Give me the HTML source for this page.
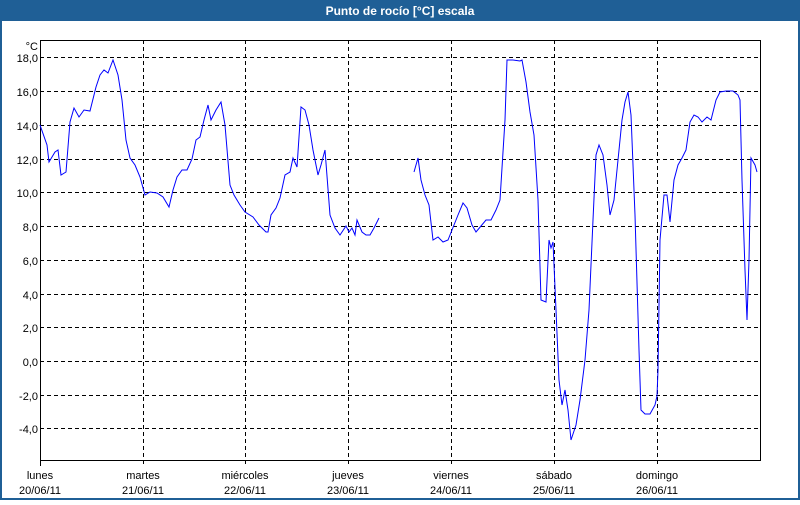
<!DOCTYPE html>
<html><head><meta charset="utf-8"><style>
body{margin:0;width:800px;height:500px;overflow:hidden;background:#fff;font-family:"Liberation Sans",sans-serif}
</style></head><body>
<svg width="800" height="500" xmlns="http://www.w3.org/2000/svg" font-family="Liberation Sans, sans-serif">
<rect x="0" y="0" width="800" height="500" fill="#1f5f96"/>
<rect x="2" y="21" width="796" height="477" fill="#fff"/>
<text x="400" y="15" fill="#fff" font-size="12" font-weight="bold" text-anchor="middle">Punto de rocío [°C] escala</text>
<g stroke="#000" stroke-dasharray="4,3" stroke-width="1">
<line x1="40" x2="760" y1="57.5" y2="57.5"/><line x1="40" x2="760" y1="91.5" y2="91.5"/><line x1="40" x2="760" y1="125.5" y2="125.5"/><line x1="40" x2="760" y1="159.5" y2="159.5"/><line x1="40" x2="760" y1="192.5" y2="192.5"/><line x1="40" x2="760" y1="226.5" y2="226.5"/><line x1="40" x2="760" y1="260.5" y2="260.5"/><line x1="40" x2="760" y1="294.5" y2="294.5"/><line x1="40" x2="760" y1="327.5" y2="327.5"/><line x1="40" x2="760" y1="361.5" y2="361.5"/><line x1="40" x2="760" y1="395.5" y2="395.5"/><line x1="40" x2="760" y1="428.5" y2="428.5"/>
<line x1="143.5" x2="143.5" y1="40" y2="466"/><line x1="245.5" x2="245.5" y1="40" y2="466"/><line x1="348.5" x2="348.5" y1="40" y2="466"/><line x1="451.5" x2="451.5" y1="40" y2="466"/><line x1="554.5" x2="554.5" y1="40" y2="466"/><line x1="657.5" x2="657.5" y1="40" y2="466"/>
</g>
<rect x="40.5" y="40.5" width="720" height="420" fill="none" stroke="#000"/>
<line x1="40.5" x2="40.5" y1="460" y2="466" stroke="#000"/>
<g font-size="11" fill="#000" text-anchor="end">
<text x="38" y="50" >°C</text>
<text x="38" y="62">18,0</text><text x="38" y="96">16,0</text><text x="38" y="130">14,0</text><text x="38" y="164">12,0</text><text x="38" y="197">10,0</text><text x="38" y="231">8,0</text><text x="38" y="265">6,0</text><text x="38" y="299">4,0</text><text x="38" y="332">2,0</text><text x="38" y="366">0,0</text><text x="38" y="400">-2,0</text><text x="38" y="433">-4,0</text>
</g>
<g font-size="11" fill="#000" text-anchor="middle">
<text x="40" y="479">lunes</text><text x="40" y="494">20/06/11</text>
<text x="143" y="479">martes</text><text x="143" y="494">21/06/11</text>
<text x="245" y="479">miércoles</text><text x="245" y="494">22/06/11</text>
<text x="348" y="479">jueves</text><text x="348" y="494">23/06/11</text>
<text x="451" y="479">viernes</text><text x="451" y="494">24/06/11</text>
<text x="554" y="479">sábado</text><text x="554" y="494">25/06/11</text>
<text x="657" y="479">domingo</text><text x="657" y="494">26/06/11</text>
</g>
<g fill="none" stroke="#0000ff" stroke-width="1">
<polyline points="40,125 47,145 49,162 55,152 58,150 61,175 66,172 70,122 74,108 79,117 84,110 90,111 96,87 100,75 104,70 108,73 113,60 118,75 122,100 126,140 130,158 135,165 140,177 145,195 150,192 157,193 163,197 169,207 173,190 177,177 182,170 187,170 192,159 196,140 200,137 204,120 208,105 211,120 216,110 221,102 225,125 230,185 234,195 240,205 245,212 253,217 259,225 266,232 268,232 271,215 276,208 280,198 285,175 290,172 293,158 297,167 301,107 305,110 309,125 313,150 318,175 321,165 325,150 330,215 335,228 340,235 346,226 349,232 352,228 355,235 357,220 362,232 366,235 370,235 374,228 379,218"/>
<polyline points="414,172 418,158 421,180 425,195 429,205 433,240 438,237 443,242 448,240 452,230 458,215 463,203 467,208 472,225 476,232 481,226 486,220 491,220 496,210 500,200 505,120 507,60 513,60 520,61 522,60 526,82 530,112 534,135 538,200 541,300 546,302 549,240 551,248 553,242 556,310 559,380 562,405 565,390 568,410 571,440 576,425 580,400 585,360 589,310 593,220 596,155 599,145 603,155 607,185 610,215 614,200 618,160 622,120 625,102 628,92 631,115 635,215 639,350 641,410 645,414 650,414 655,405 657,396 658,370 660,240 664,195 667,195 670,222 674,180 678,165 682,158 686,150 690,122 694,115 698,117 702,122 707,117 711,120 716,100 720,92 726,91 733,91 738,95 740,100 742,180 745,270 747,320 749,260 751,158 755,165 757,172"/>
</g>
</svg>
</body></html>
